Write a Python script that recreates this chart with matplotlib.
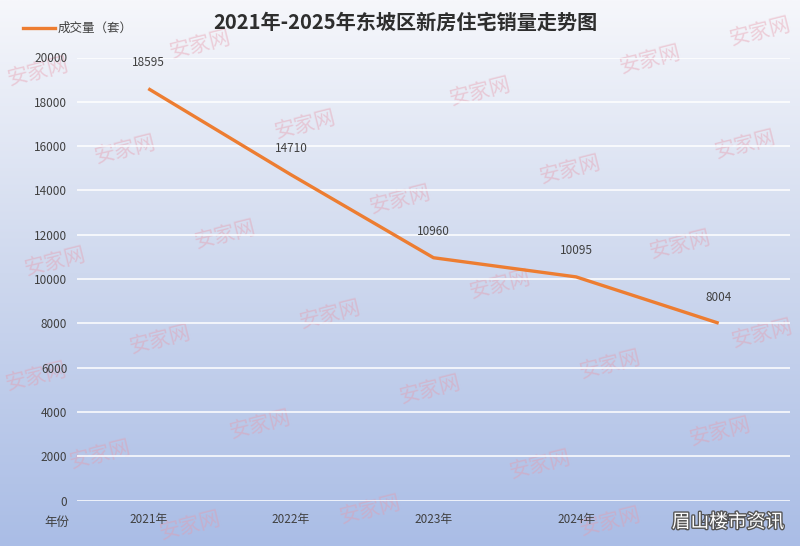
import numpy as np
import matplotlib.pyplot as plt
import matplotlib.patheffects as pe

plt.rcParams['font.family'] = ['Noto Sans CJK SC', 'DejaVu Sans']

years = ['2021年', '2022年', '2023年', '2024年', '2025年']
sales = [18595, 14710, 10960, 10095, 8004]
yticks = list(range(0, 20001, 2000))

# watermark positions (pixels from top-left)
marks = [(200, 45), (38, 72), (650, 60), (480, 92), (760, 32), (305, 125),
         (125, 150), (745, 145), (400, 200), (570, 170), (225, 235),
         (680, 245), (55, 262), (500, 285), (330, 315), (762, 334),
         (160, 340), (610, 365), (36, 377), (430, 390), (260, 425),
         (720, 432), (100, 455), (540, 465), (370, 510), (190, 526),
         (610, 522)]

W, H = 800, 546
fig = plt.figure(figsize=(W / 100, H / 100), dpi=100)

# gradient background
bg = fig.add_axes([0, 0, 1, 1], zorder=-10)
top = np.array([246, 247, 251]) / 255
mid = np.array([206, 216, 238]) / 255
bot = np.array([170, 189, 230]) / 255
t = np.linspace(0, 1, 300)[:, None]
grad = np.where(t < 0.5, top + (mid - top) * (t / 0.5), mid + (bot - mid) * ((t - 0.5) / 0.5))
bg.imshow(grad[:, None, :].repeat(2, axis=1), aspect='auto', extent=[0, 1, 0, 1])
bg.axis('off')

for (mx, my) in marks:
    fig.text(mx / W, 1 - my / H, '安家网', fontsize=15, color='#e79aab', alpha=0.42,
             rotation=14, ha='center', va='center', zorder=-5)

left, right = 77 / W, 790 / W
bottom, topy = 1 - 500.5 / H, 1 - 57.5 / H
ax = fig.add_axes([left, bottom, right - left, topy - bottom])
ax.set_facecolor('none')
x = np.arange(len(years))
ax.plot(x, sales, color='#ED7D31', lw=2.4, solid_capstyle='butt', zorder=3)
for xi, v in zip(x, sales):
    ax.annotate(str(v), (xi, v), xytext=(0, 14), textcoords='offset points',
                ha='center', va='bottom', fontsize=8.5, color='#404040')

ax.set_xlim(-0.5, len(years) - 0.5)
ax.set_ylim(0, 20000)
ax.set_yticks(yticks)
ax.set_yticklabels([str(v) for v in yticks], fontsize=8.5, color='#404040')
ax.set_xticks(x)
ax.set_xticklabels(years, fontsize=8.5, color='#404040')
ax.tick_params(axis='y', length=0, pad=7)
ax.tick_params(axis='x', length=0, pad=9)
ax.grid(axis='y', color='white', lw=1.1)
ax.set_axisbelow(True)
for s in ax.spines.values():
    s.set_visible(False)

fig.text(405 / W, 1 - 22 / H, '2021年-2025年东坡区新房住宅销量走势图', fontsize=14.5,
         fontweight='bold', color='#2e2e2e', ha='center', va='center')
fig.lines.append(plt.Line2D([23 / W, 55 / W], [1 - 28 / H, 1 - 28 / H],
                            transform=fig.transFigure, color='#ED7D31', lw=2.4))
fig.text(58 / W, 1 - 28 / H, '成交量（套）', fontsize=9, color='#404040',
         ha='left', va='center')
fig.text(57 / W, 1 - 522 / H, '年份', fontsize=9, color='#404040',
         ha='center', va='center')
fig.text(728 / W, 1 - 522 / H, '眉山楼市资讯', fontsize=13.5, color='white',
         ha='center', va='center', zorder=10,
         path_effects=[pe.withStroke(linewidth=2, foreground='#555555')])

fig.savefig('out.png', dpi=100)
